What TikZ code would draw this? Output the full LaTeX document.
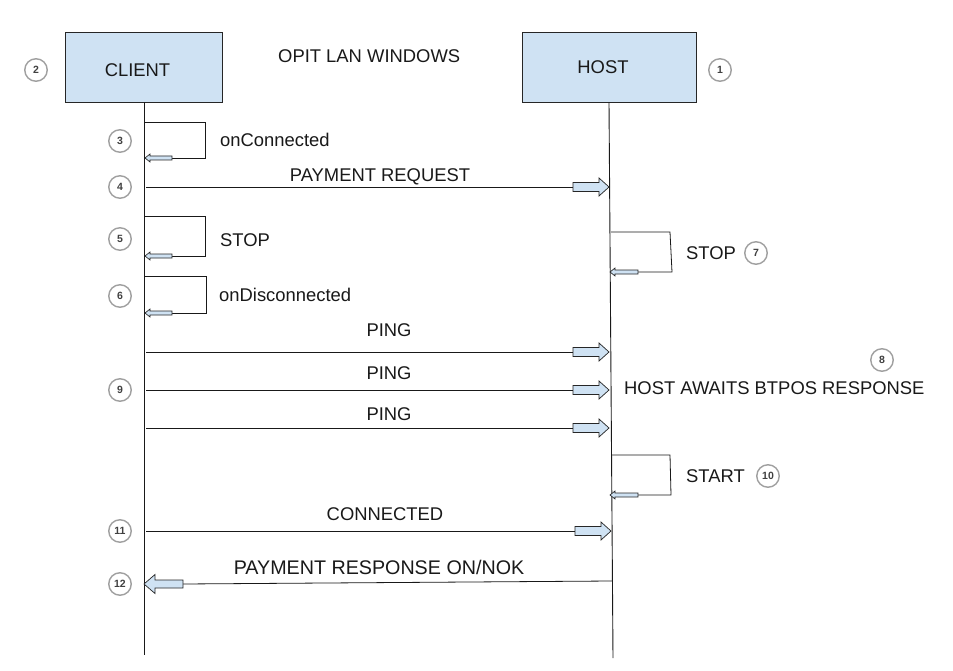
\documentclass[tikz,border=0pt]{standalone}
\usepackage{fontspec}
\setmainfont{Liberation Sans}
\definecolor{boxblue}{HTML}{CFE2F3}
\definecolor{ringgray}{HTML}{A0A0A0}
\tikzset{
  lbl/.style={font=\fontsize{18.4}{21}\selectfont, inner sep=0pt, text=black!90},
  lifebox/.style={draw=black!85, fill=boxblue, line width=0.8pt, inner sep=0pt},
  life/.style={draw=black!90, line width=0.9pt},
  msg/.style={draw=black!90, line width=0.8pt},
  num/.style={circle, draw=ringgray, line width=1.4pt, minimum size=22.5pt, inner sep=0pt,
              font=\bfseries\fontsize{10.5}{11}\selectfont, text=black!75},
  barr/.style={fill=boxblue, draw=black!85, line width=0.7pt, line join=miter},
}
% #1 tip coordinate, #2 direction (1 right, -1 left), #3 total length, #4 head length, #5 shaft half height, #6 head half height
\newcommand{\blockarr}[6]{%
  \begin{scope}[shift={(#1)}, xscale=#2]
    \filldraw[barr] (0,0) -- (-#4,-#6) -- (-#4,-#5) -- (-#3,-#5) -- (-#3,#5) -- (-#4,#5) -- (-#4,#6) -- cycle;
  \end{scope}}
\begin{document}
\begin{tikzpicture}[x=1pt,y=-1pt]
\useasboundingbox[fill=white] (0,0) rectangle (953,671);

% boxes
\node[lifebox, minimum width=157pt, minimum height=70pt] (client) at (144,67) {};
\node[lifebox, minimum width=174pt, minimum height=70pt] (host) at (609,67) {};
\node[lbl, anchor=base] (clientlbl) at (137.5,76.5) {CLIENT};
\node[lbl, anchor=base] (hostlbl) at (603,73.5) {HOST};
\node[lbl, anchor=base west] (title) at (278,63) {OPIT LAN WINDOWS};

% lifelines
\coordinate (cbot) at (144,655);
\coordinate (hbot) at (613,658);
\draw[life] (client.south) -- (cbot);
\draw[life] (host.south) -- (hbot);

% circles
\node[num] (n2) at (36,70) {2};
\node[num] (n1) at (720,70) {1};
\node[num] (n3) at (120,141) {3};
\node[num] (n4) at (120,187) {4};
\node[num] (n5) at (120,239) {5};
\node[num] (n6) at (120,296) {6};
\node[num] (n7) at (756,253) {7};
\node[num] (n8) at (882,360) {8};
\node[num] (n9) at (120,390) {9};
\node[num] (n10) at (768,476) {10};
\node[num] (n11) at (120,531) {11};
\node[num] (n12) at (120,584) {12};

% self loop 3 : onConnected
\coordinate (l3a) at (144,122); \coordinate (l3b) at (205,122);
\coordinate (l3c) at (205,158); \coordinate (l3d) at (172,158);
\coordinate (l3t) at (145,158);
\draw[msg] (l3a) -- (l3b) -- (l3c) -- (l3d);
\blockarr{l3t}{-1}{27}{5}{2}{4}
\node[lbl, anchor=base west] (t3) at (220,147) {onConnected};

% message 4 : payment request
\coordinate (m4s) at (146,187); \coordinate (m4e) at (609,187);
\draw[msg] (m4s) -- (m4e);
\blockarr{m4e}{1}{36}{10}{4.5}{9}
\node[lbl, anchor=base] (t4) at (380,181.5) {PAYMENT REQUEST};

% self loop 5 : STOP (client)
\coordinate (l5a) at (144,216); \coordinate (l5b) at (205,216);
\coordinate (l5c) at (205,256); \coordinate (l5d) at (172,256);
\coordinate (l5t) at (145,256);
\draw[msg] (l5a) -- (l5b) -- (l5c) -- (l5d);
\blockarr{l5t}{-1}{27}{5}{2}{4}
\node[lbl, anchor=base west] (t5) at (220,246.5) {STOP};

% self loop 7 : STOP (host)
\coordinate (l7a) at (611,232); \coordinate (l7b) at (670,232);
\coordinate (l7c) at (672,272); \coordinate (l7d) at (638,272);
\coordinate (l7t) at (610,272);
\draw[msg] (l7a) -- (l7b) -- (l7c) -- (l7d);
\blockarr{l7t}{-1}{28}{5}{2}{4}
\node[lbl, anchor=base west] (t7) at (686,259) {STOP};

% self loop 6 : onDisconnected
\coordinate (l6a) at (144,276); \coordinate (l6b) at (206,276);
\coordinate (l6c) at (206,313); \coordinate (l6d) at (172,313);
\coordinate (l6t) at (145,313);
\draw[msg] (l6a) -- (l6b) -- (l6c) -- (l6d);
\blockarr{l6t}{-1}{27}{5}{2}{4}
\node[lbl, anchor=base west] (t6) at (219,301) {onDisconnected};

% PINGs
\coordinate (p1s) at (146,352); \coordinate (p1e) at (609,352);
\draw[msg] (p1s) -- (p1e);
\blockarr{p1e}{1}{36}{10}{4.5}{9}
\node[lbl, anchor=base] (tp1) at (389,336.5) {PING};

\coordinate (p2s) at (146,390); \coordinate (p2e) at (609,390);
\draw[msg] (p2s) -- (p2e);
\blockarr{p2e}{1}{36}{10}{4.5}{9}
\node[lbl, anchor=base] (tp2) at (389,379.5) {PING};

\coordinate (p3s) at (146,428); \coordinate (p3e) at (609,428);
\draw[msg] (p3s) -- (p3e);
\blockarr{p3e}{1}{36}{10}{4.5}{9}
\node[lbl, anchor=base] (tp3) at (389,420.5) {PING};

\node[lbl, anchor=base west] (t8) at (624,394) {HOST AWAITS BTPOS RESPONSE};

% self loop 10 : START
\coordinate (l10a) at (612,455); \coordinate (l10b) at (670,455);
\coordinate (l10c) at (671,495); \coordinate (l10d) at (638,495);
\coordinate (l10t) at (610,495);
\draw[msg] (l10a) -- (l10b) -- (l10c) -- (l10d);
\blockarr{l10t}{-1}{28}{5}{2}{4}
\node[lbl, anchor=base west] (t10) at (686,482) {START};

% message 11 : CONNECTED
\coordinate (m11s) at (146,531); \coordinate (m11e) at (611,531);
\draw[msg] (m11s) -- (m11e);
\blockarr{m11e}{1}{36}{10}{4.5}{9}
\node[lbl, anchor=base] (t11) at (385,520.5) {CONNECTED};

% message 12 : payment response
\coordinate (m12s) at (612,581); \coordinate (m12e) at (183,584);
\coordinate (m12t) at (144,584);
\draw[msg] (m12s) -- (m12e);
\blockarr{m12t}{-1}{39}{11}{4}{9.5}
\node[lbl, anchor=base, font=\fontsize{19.7}{22}\selectfont] (t12) at (379,574) {PAYMENT RESPONSE ON/NOK};

\end{tikzpicture}
\end{document}
